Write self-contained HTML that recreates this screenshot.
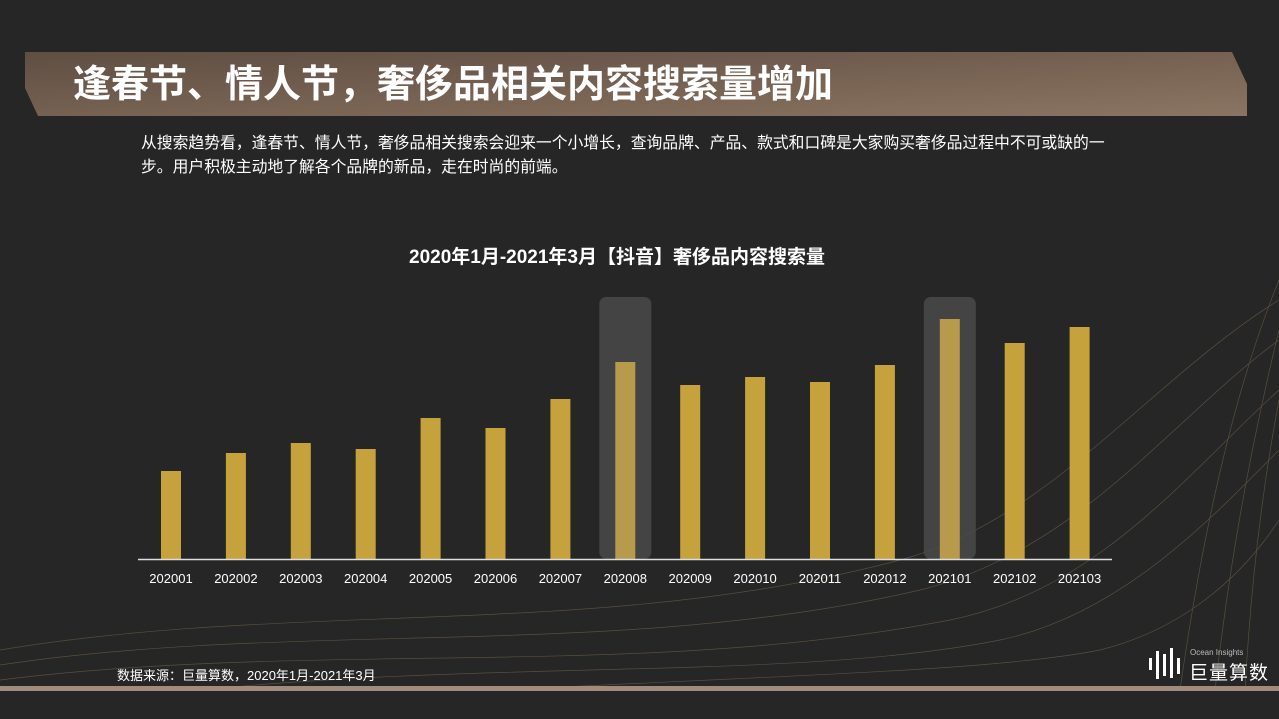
<!DOCTYPE html>
<html><head><meta charset="utf-8"><style>
body{margin:0;width:1279px;height:719px;background:#262626;overflow:hidden;position:relative;font-family:"Liberation Sans","Noto Sans CJK SC",sans-serif;color:#fff}
.abs{position:absolute}
</style></head><body>
<svg class="abs" style="left:0;top:0" width="1279" height="719">
<defs><linearGradient id="bg1" x1="0" y1="0" x2="1" y2="1"><stop offset="0" stop-color="#5f4e43"/><stop offset="0.6" stop-color="#7a6555"/><stop offset="1" stop-color="#8a7563"/></linearGradient></defs>
<polygon points="25,52 1232,52 1247,84 1247,116 38,116 25,88" fill="url(#bg1)"/>
<g stroke="#6e6048" stroke-width="0.7" fill="none" opacity="0.7">
<path d="M0,650 C300,600 600,640 900,560 C1050,520 1150,380 1279,300"/>
<path d="M0,665 C300,620 620,660 920,590 C1080,550 1170,420 1279,340"/>
<path d="M0,680 C320,640 640,680 950,620 C1100,590 1190,470 1279,390"/>
<path d="M200,690 C500,660 800,680 1000,640 C1120,615 1210,520 1279,450"/>
<path d="M500,690 C800,675 1000,670 1100,650 C1180,630 1240,580 1279,520"/>
<path d="M1279,280 C1230,400 1200,550 1180,690"/>
<path d="M1279,330 C1250,450 1230,560 1215,690"/>
<path d="M1279,400 C1260,500 1250,600 1245,690"/>
</g>
<rect x="0" y="686" width="1279" height="5" fill="#a08c7c"/>
</svg>
<div class="abs" style="left:73px;top:60px;font-size:38px;font-weight:bold;line-height:50px;white-space:nowrap">逢春节、情人节，奢侈品相关内容搜索量增加</div>
<div class="abs" style="left:141px;top:132px;width:1100px;font-size:15.8px;line-height:24px;white-space:nowrap">从搜索趋势看，逢春节、情人节，奢侈品相关搜索会迎来一个小增长，查询品牌、产品、款式和口碑是大家购买奢侈品过程中不可或缺的一<br>步。用户积极主动地了解各个品牌的新品，走在时尚的前端。</div>
<div class="abs" style="left:0;width:1234px;top:242px;text-align:center;font-size:19px;font-weight:bold">2020年1月-2021年3月【抖音】奢侈品内容搜索量</div>
<svg class="abs" id="chart" style="left:0;top:0" width="1279" height="719"></svg>
<div class="abs" style="left:117px;top:665px;font-size:13px;white-space:nowrap">数据来源：巨量算数，2020年1月-2021年3月</div>
<div class="abs" style="left:1148px;top:648px;width:120px;height:34px">
<svg width="40" height="34" class="abs" style="left:0;top:0"><g fill="#fff"><rect x="1" y="10" width="3" height="12"/><rect x="8" y="3" width="3" height="28"/><rect x="15" y="6" width="3" height="22"/><rect x="22" y="0" width="3" height="30"/><rect x="29" y="10" width="3" height="16"/></g></svg>
<div class="abs" style="left:42px;top:0;font-size:8px;color:#bbb;white-space:nowrap">Ocean Insights</div>
<div class="abs" style="left:41px;top:10px;font-size:19px;white-space:nowrap;letter-spacing:1px">巨量算数</div>
</div>
<script>
const categories=["202001","202002","202003","202004","202005","202006","202007","202008","202009","202010","202011","202012","202101","202102","202103"];
const values=[88,106,116,110,141,131,160,197,174,182,177,194,240,216,232];
const highlighted=["202008","202101"];
const svg=document.getElementById('chart');const NS='http://www.w3.org/2000/svg';
const x0=171,step=64.9,base=559,scale=1.0;
const xc=i=>x0+i*step, yv=v=>base-v*scale;
function mk(t,a){const e=document.createElementNS(NS,t);for(const k in a)e.setAttribute(k,a[k]);svg.appendChild(e);return e;}
categories.forEach((c,i)=>{if(highlighted.includes(c)){const r=mk('rect',{x:xc(i)-26,y:297,width:52,height:base-297,rx:7,fill:'#4a4a4a',opacity:0.85});

}});
categories.forEach((c,i)=>{const b=mk('rect',{x:xc(i)-10,y:yv(values[i]),width:20,height:values[i]*scale,fill:highlighted.includes(c)?'#b89a4c':'#c6a23c'});


const t=mk('text',{x:xc(i),y:583,'text-anchor':'middle','font-size':13,fill:'#fff','font-family':'Liberation Sans'});t.textContent=c;

});
const ax=mk('line',{x1:138,x2:1112,y1:559.5,y2:559.5,stroke:'#ddd','stroke-width':1.5});


</script>
</body></html>
